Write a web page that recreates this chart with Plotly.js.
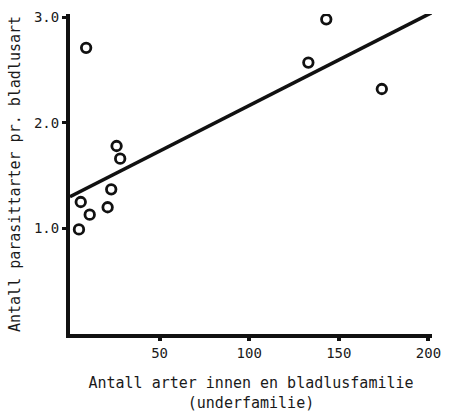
<!DOCTYPE html>
<html>
<head>
<meta charset="utf-8">
<script src="https://cdn.plot.ly/plotly-3.0.1.min.js"></script>
<style>html,body{margin:0;padding:0;background:#fff;}#chart{width:450px;height:414px;}</style>
</head>
<body>
<div id="chart"></div>
<script>
// Data
const speciesCount = [9, 6, 11, 5, 26, 28, 23, 21, 133, 143, 174];
const parasitoidsPerSpecies = [2.71, 1.25, 1.13, 0.99, 1.78, 1.66, 1.37, 1.20, 2.57, 2.98, 2.32];
const fitX = [0, 202];
const fitY = [1.30, 3.045];
const xTickVals = [50, 100, 150, 200];
const xTickText = ['50', '100', '150', '200'];
const yTickVals = [1, 2, 3];
const yTickText = ['1.0', '2.0', '3.0'];

const font = {family: 'DejaVu Sans Mono, Liberation Mono, monospace', color: '#1a1a1a'};

const traces = [
  {
    x: fitX, y: fitY, type: 'scatter', mode: 'lines',
    line: {color: '#111', width: 3.5}, hoverinfo: 'skip', showlegend: false
  },
  {
    x: speciesCount, y: parasitoidsPerSpecies, type: 'scatter', mode: 'markers',
    marker: {symbol: 'circle-open', size: 9.5, color: '#111', line: {width: 2.8, color: '#111'}},
    showlegend: false
  }
];

const layout = {
  width: 450, height: 414,
  margin: {l: 70, r: 18, t: 14, b: 80},
  paper_bgcolor: '#fff', plot_bgcolor: '#fff',
  font: Object.assign({size: 14}, font),
  xaxis: {
    range: [0, 202], showgrid: false, zeroline: false,
    showline: true, linecolor: '#111', linewidth: 4,
    ticks: 'outside', ticklen: 3, tickwidth: 4, tickcolor: '#111',
    tickvals: xTickVals, ticktext: xTickText,
    tickfont: Object.assign({size: 14}, font),
    title: {text: 'Antall arter innen en bladlusfamilie<br>(underfamilie)', font: Object.assign({size: 15}, font), standoff: 19}
  },
  yaxis: {
    range: [0, 3.03], showgrid: false, zeroline: false,
    showline: true, linecolor: '#111', linewidth: 4,
    ticks: 'outside', ticklen: 4, tickwidth: 3, tickcolor: '#111',
    tickvals: yTickVals, ticktext: yTickText,
    tickfont: Object.assign({size: 14}, font),
    title: {text: 'Antall parasittarter pr. bladlusart', font: Object.assign({size: 15}, font), standoff: 11}
  }
};

Plotly.newPlot('chart', traces, layout, {displayModeBar: false, staticPlot: true});
</script>
</body>
</html>
